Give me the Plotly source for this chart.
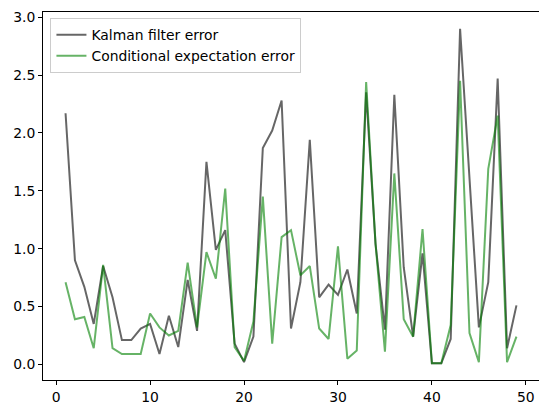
import plotly.graph_objects as go

steps = list(range(1, 50))
kalman_error = [2.17, 0.90, 0.67, 0.35, 0.85, 0.58, 0.21, 0.21, 0.31, 0.35,
                0.09, 0.42, 0.15, 0.73, 0.29, 1.75, 0.99, 1.16, 0.18, 0.02,
                0.24, 1.87, 2.02, 2.28, 0.31, 0.71, 1.94, 0.58, 0.69, 0.60,
                0.82, 0.44, 2.35, 1.04, 0.30, 2.33, 0.84, 0.24, 0.96, 0.01,
                0.01, 0.22, 2.90, 1.62, 0.32, 0.71, 2.47, 0.14, 0.51]
cond_error = [0.71, 0.39, 0.41, 0.14, 0.86, 0.14, 0.09, 0.09, 0.09, 0.44,
              0.32, 0.25, 0.29, 0.88, 0.32, 0.97, 0.74, 1.52, 0.15, 0.03,
              0.37, 1.45, 0.18, 1.10, 1.16, 0.77, 0.85, 0.31, 0.22, 1.02,
              0.05, 0.12, 2.44, 1.04, 0.11, 1.65, 0.39, 0.24, 1.17, 0.01,
              0.01, 0.34, 2.45, 0.27, 0.02, 1.69, 2.15, 0.02, 0.24]
x_ticks = [0, 10, 20, 30, 40, 50]
y_ticks = [0.0, 0.5, 1.0, 1.5, 2.0, 2.5, 3.0]

fig = go.Figure()
fig.add_trace(go.Scatter(x=steps, y=kalman_error, mode="lines",
                         name="Kalman filter error",
                         line=dict(color="rgba(0,0,0,0.6)", width=2)))
fig.add_trace(go.Scatter(x=steps, y=cond_error, mode="lines",
                         name="Conditional expectation error",
                         line=dict(color="rgba(0,128,0,0.6)", width=2)))

axis_common = dict(showgrid=False, zeroline=False, showline=True,
                   linecolor="black", linewidth=1, mirror=True,
                   ticks="outside", ticklen=4, tickcolor="black",
                   automargin=False,
                   tickfont=dict(family="DejaVu Sans", size=13.9, color="black"))

xmin, xmax = min(steps), max(steps)
xpad = 0.05 * (xmax - xmin)
allv = kalman_error + cond_error
ymin, ymax = min(allv), max(allv)
ypad = 0.05 * (ymax - ymin)

fig.update_xaxes(range=[xmin - xpad, xmax + xpad], tickvals=x_ticks,
                 ticktext=[str(v) for v in x_ticks], **axis_common)
fig.update_yaxes(range=[ymin - ypad, ymax + ypad], tickvals=y_ticks,
                 ticktext=[f"{v:.1f}" for v in y_ticks], **axis_common)

# page body has an 8px default margin, so the figure is 8px smaller
fig.update_layout(
    width=539, height=406,
    margin=dict(l=34.5, r=8.3, t=3.7, b=33.7),
    plot_bgcolor="white", paper_bgcolor="white",
    font=dict(family="DejaVu Sans", size=13.9, color="black"),
    legend=dict(x=0.015, y=0.983, xanchor="left", yanchor="top",
                bgcolor="rgba(255,255,255,0.8)", bordercolor="#cccccc",
                borderwidth=1, font=dict(size=13.9), tracegroupgap=0),
    showlegend=True,
)

fig.write_html("out.html")
